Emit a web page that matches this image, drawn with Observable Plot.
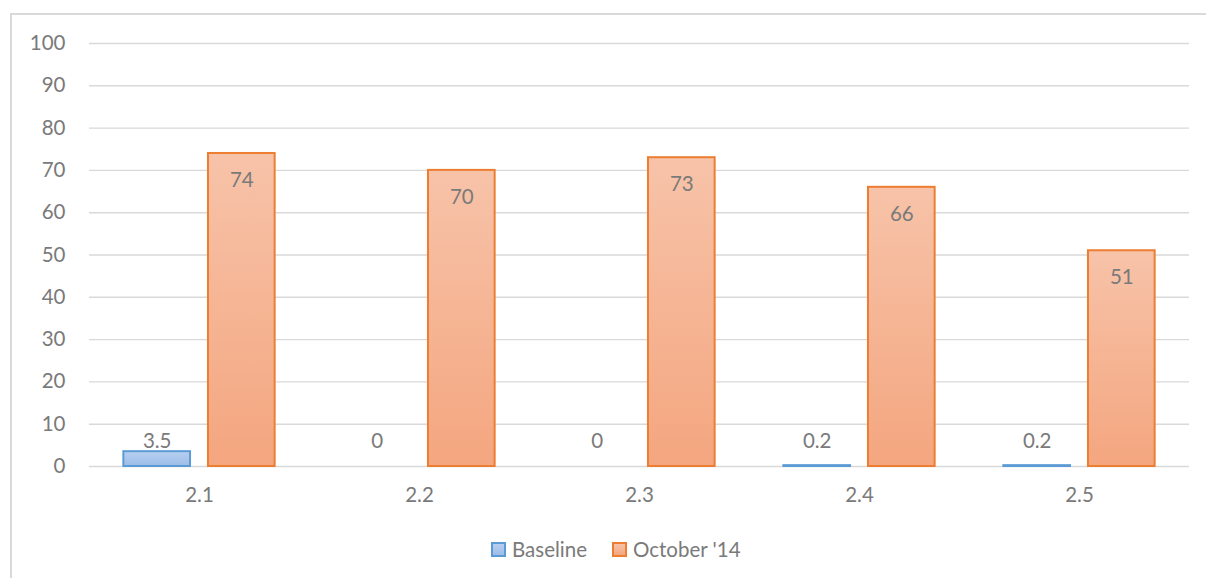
<!DOCTYPE html>
<html>
<head>
<meta charset="utf-8">
<script src="https://cdn.jsdelivr.net/npm/d3@7"></script>
<script src="https://cdn.jsdelivr.net/npm/@observablehq/plot@0.6"></script>
<style>
  html, body { margin: 0; padding: 0; background: #fff; }
  body { width: 1206px; height: 578px; position: relative; overflow: hidden; font-family: Lato, sans-serif; }
  #frame { position: absolute; left: 10px; top: 13px; width: 1300px; height: 700px; border: 2px solid #d9d9d9; box-sizing: border-box; }
  #chart { position: absolute; left: 0; top: 0; }
  #legend { position: absolute; left: 491px; top: 537px; display: flex; align-items: center; font-size: 20.5px; color: #7a7a7a; white-space: nowrap; }
  .item { display: flex; align-items: center; margin-right: 25px; }
  .swatch { width: 15px; height: 15px; box-sizing: border-box; border: 2px solid; margin-right: 6px; }
</style>
</head>
<body>
<div id="frame"></div>
<div id="chart"></div>
<div id="legend"></div>
<script>
// Chart values
const categories = ["2.1", "2.2", "2.3", "2.4", "2.5"];
const seriesNames = ["Baseline", "October '14"];
const baseline = [3.5, 0, 0, 0.2, 0.2];
const october = [74, 70, 73, 66, 51];
const yTicks = [0, 10, 20, 30, 40, 50, 60, 70, 80, 90, 100];

const strokes = { "Baseline": "#5b9bd5", "October '14": "#ed7d31" };
const gradIds = { "Baseline": "gradBase", "October '14": "gradOct" };

// Tidy rows: one per category and series
const rows = [];
categories.forEach((c, i) => {
  rows.push({ category: c, series: seriesNames[0], value: baseline[i] });
  rows.push({ category: c, series: seriesNames[1], value: october[i] });
});
const baseRows = rows.filter(d => d.series === seriesNames[0]);
const octRows = rows.filter(d => d.series === seriesNames[1]);

const svg = Plot.plot({
  width: 1206,
  height: 522,
  marginLeft: 87,
  marginRight: 15,
  marginTop: 43,
  marginBottom: 56,
  style: { fontFamily: "Lato, sans-serif", fontSize: "20.5px", color: "#7a7a7a", background: "transparent" },
  fx: { domain: categories, padding: 0, label: null },
  x: { domain: seriesNames, paddingInner: 0.212, paddingOuter: 0.406, axis: null, round: false },
  y: { domain: [0, 100], label: null },
  color: { domain: seriesNames, range: seriesNames.map(s => `url(#${gradIds[s]})`) },
  marks: [
    Plot.gridY(yTicks, { stroke: "#d9d9d9", strokeOpacity: 1, strokeWidth: 1.4 }),
    Plot.axisY(yTicks, { tickSize: 0, tickPadding: 24, label: null, fill: "#7a7a7a" }),
    Plot.axisFx({ anchor: "bottom", tickSize: 0, tickPadding: 21, label: null, fill: "#7a7a7a" }),
    // bars with zero value leave no outline
    Plot.barY(baseRows, { fx: "category", x: "series", y: "value", fill: "series", stroke: strokes["Baseline"], strokeWidth: 2, filter: d => d.value > 0 }),
    Plot.barY(octRows, { fx: "category", x: "series", y: "value", fill: "series", stroke: strokes["October '14"], strokeWidth: 2 }),
    // baseline labels sit on a common line above the axis
    Plot.text(baseRows, { fx: "category", x: "series", y: 0, text: d => String(d.value), dy: -25.5, lineAnchor: "middle", fill: "#7a7a7a" }),
    // october labels inside the top of each bar
    Plot.text(octRows, { fx: "category", x: "series", y: "value", text: d => String(d.value), dy: 27, lineAnchor: "middle", fill: "#7a7a7a" })
  ]
});

// Vertical gradient fills for each series
const defs = d3.select(svg).insert("defs", ":first-child");
const gradStops = {
  gradBase: ["#b7cff0", "#9dbde8"],
  gradOct: ["#f7c3a9", "#f4a67f"]
};
Object.entries(gradStops).forEach(([id, [top, bottom]]) => {
  const g = defs.append("linearGradient").attr("id", id).attr("x1", 0).attr("y1", 0).attr("x2", 0).attr("y2", 1);
  g.append("stop").attr("offset", "0%").attr("stop-color", top);
  g.append("stop").attr("offset", "100%").attr("stop-color", bottom);
});

document.getElementById("chart").appendChild(svg);

// Legend below the chart
const legend = d3.select("#legend");
seriesNames.forEach(s => {
  const item = legend.append("div").attr("class", "item");
  item.append("div").attr("class", "swatch")
    .style("border-color", strokes[s])
    .style("background", `linear-gradient(${gradStops[gradIds[s]][0]}, ${gradStops[gradIds[s]][1]})`);
  item.append("span").text(s);
});
</script>
</body>
</html>
